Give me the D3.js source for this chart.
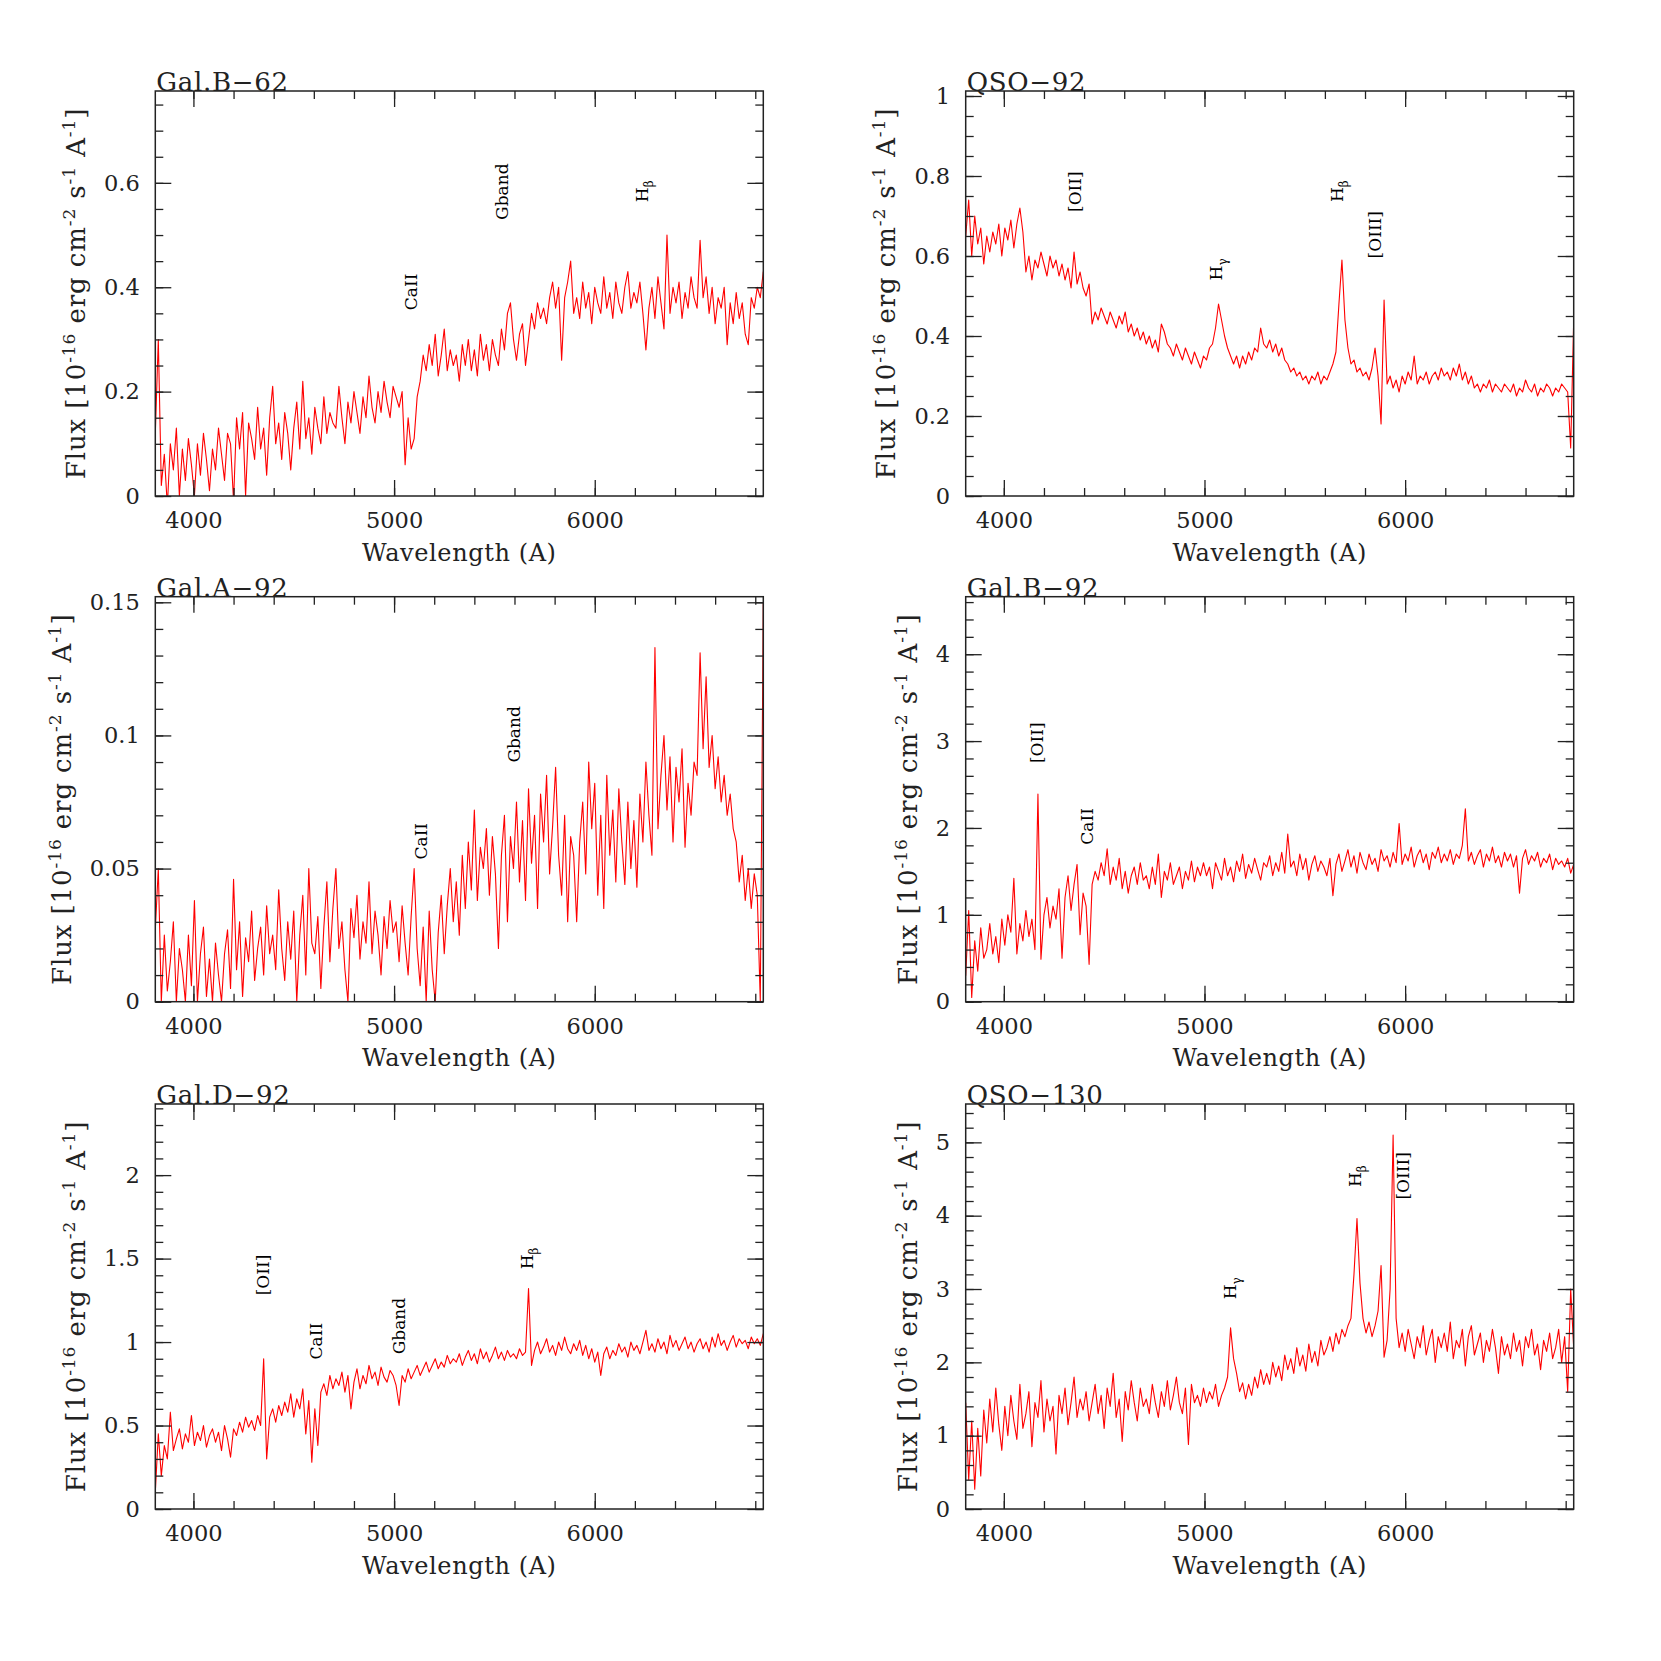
<!DOCTYPE html>
<html>
<head>
<meta charset="utf-8">
<script src="https://cdn.jsdelivr.net/npm/d3@7"></script>
<style>
  body { margin: 0; background: #fff; }
</style>
</head>
<body>
<svg id="chart" width="1661" height="1661"></svg>
<script>
// wavelength grid (A) shared by all six spectra
const wlStart = 3810, wlStep = 15;
const xDomain = [3810, 6840];
const xMajor = [4000, 5000, 6000];

const titles = ["Gal.B\u221262", "QSO\u221292", "Gal.A\u221292", "Gal.B\u221292", "Gal.D\u221292", "QSO\u2212130"];
const yMax = [0.776, 1.0125, 0.1521, 4.662, 2.426, 5.523];
const yMajor = [
    [0, 0.2, 0.4, 0.6],
    [0, 0.2, 0.4, 0.6, 0.8, 1],
    [0, 0.05, 0.1, 0.15],
    [0, 1, 2, 3, 4],
    [0, 0.5, 1, 1.5, 2],
    [0, 1, 2, 3, 4, 5]
];
const yMinorStep = [0.05, 0.05, 0.01, 0.2, 0.1, 0.2];

const fluxGalB62 = [
    0.12, 0.30, 0.02, 0.08, -0.02, 0.10, 0.05, 0.13, 0.00, 0.09, 0.03, 0.11, 0.06, 0.00, 0.10, 0.04, 0.12, 0.07, 0.01, 0.09,
    0.05, 0.13, 0.08, 0.03, 0.12, 0.10, -0.01, 0.15, 0.09, 0.16, 0.00, 0.14, 0.11, 0.07, 0.17, 0.09, 0.13, 0.04, 0.15, 0.21,
    0.10, 0.14, 0.07, 0.16, 0.12, 0.05, 0.13, 0.18, 0.09, 0.22, 0.11, 0.15, 0.08, 0.17, 0.13, 0.10, 0.19, 0.12, 0.16, 0.14,
    0.13, 0.21, 0.15, 0.10, 0.18, 0.14, 0.20, 0.16, 0.12, 0.19, 0.15, 0.23, 0.17, 0.14, 0.20, 0.16, 0.22, 0.18, 0.15, 0.21,
    0.19, 0.17, 0.20, 0.06, 0.15, 0.09, 0.11, 0.19, 0.22, 0.27, 0.24, 0.29, 0.25, 0.31, 0.23, 0.27, 0.32, 0.24, 0.28, 0.25,
    0.27, 0.22, 0.29, 0.25, 0.30, 0.24, 0.28, 0.23, 0.31, 0.26, 0.29, 0.24, 0.30, 0.27, 0.25, 0.32, 0.28, 0.35, 0.37, 0.30,
    0.26, 0.31, 0.33, 0.25, 0.30, 0.35, 0.32, 0.37, 0.34, 0.36, 0.33, 0.38, 0.41, 0.36, 0.40, 0.26, 0.38, 0.41, 0.45, 0.35,
    0.38, 0.34, 0.41, 0.36, 0.39, 0.33, 0.40, 0.37, 0.35, 0.42, 0.36, 0.39, 0.34, 0.41, 0.37, 0.35, 0.40, 0.43, 0.36, 0.39,
    0.37, 0.41, 0.35, 0.28, 0.36, 0.40, 0.34, 0.42, 0.37, 0.32, 0.50, 0.35, 0.40, 0.37, 0.41, 0.34, 0.39, 0.36, 0.42, 0.38,
    0.36, 0.49, 0.38, 0.42, 0.35, 0.40, 0.33, 0.38, 0.36, 0.40, 0.29, 0.37, 0.33, 0.39, 0.34, 0.37, 0.31, 0.29, 0.38, 0.36,
    0.40, 0.38, 0.43
];

const fluxQSO92 = [
    0.65, 0.74, 0.60, 0.70, 0.63, 0.67, 0.58, 0.65, 0.61, 0.66, 0.63, 0.68, 0.60, 0.67, 0.64, 0.69, 0.62, 0.68, 0.72, 0.66,
    0.56, 0.60, 0.54, 0.59, 0.57, 0.61, 0.58, 0.55, 0.60, 0.57, 0.59, 0.55, 0.58, 0.54, 0.57, 0.52, 0.61, 0.53, 0.56, 0.52,
    0.50, 0.53, 0.43, 0.46, 0.44, 0.47, 0.45, 0.43, 0.46, 0.44, 0.42, 0.45, 0.43, 0.46, 0.41, 0.43, 0.40, 0.42, 0.39, 0.41,
    0.38, 0.40, 0.37, 0.39, 0.36, 0.43, 0.41, 0.38, 0.37, 0.35, 0.38, 0.36, 0.34, 0.37, 0.35, 0.33, 0.36, 0.34, 0.32, 0.35,
    0.34, 0.37, 0.38, 0.42, 0.48, 0.44, 0.40, 0.37, 0.35, 0.33, 0.35, 0.32, 0.35, 0.33, 0.36, 0.34, 0.37, 0.36, 0.42, 0.38,
    0.37, 0.39, 0.36, 0.38, 0.35, 0.37, 0.34, 0.33, 0.31, 0.32, 0.30, 0.31, 0.29, 0.30, 0.28, 0.30, 0.29, 0.31, 0.28, 0.30,
    0.29, 0.31, 0.33, 0.36, 0.48, 0.59, 0.44, 0.37, 0.33, 0.34, 0.31, 0.32, 0.30, 0.31, 0.29, 0.32, 0.37, 0.30, 0.18, 0.49,
    0.28, 0.30, 0.27, 0.29, 0.26, 0.30, 0.28, 0.31, 0.29, 0.35, 0.28, 0.30, 0.29, 0.31, 0.28, 0.30, 0.31, 0.29, 0.32, 0.30,
    0.31, 0.29, 0.32, 0.30, 0.33, 0.29, 0.31, 0.28, 0.30, 0.27, 0.28, 0.26, 0.28, 0.27, 0.29, 0.26, 0.28, 0.27, 0.26, 0.28,
    0.27, 0.26, 0.28, 0.25, 0.27, 0.26, 0.29, 0.27, 0.26, 0.28, 0.25, 0.27, 0.26, 0.28, 0.27, 0.25, 0.27, 0.26, 0.28, 0.27,
    0.26, 0.12, 0.44
];

const fluxGalA92 = [
    0.027, 0.050, 0.000, 0.025, 0.004, 0.015, 0.030, 0.000, 0.020, 0.012, 0.000, 0.025, 0.006, 0.038, 0.000, 0.018, 0.028, 0.002, 0.016, 0.000,
    0.022, 0.010, 0.000, 0.018, 0.027, 0.005, 0.046, 0.012, 0.030, 0.002, 0.024, 0.015, 0.034, 0.008, 0.020, 0.028, 0.010, 0.036, 0.018, 0.025,
    0.012, 0.042, 0.020, 0.008, 0.030, 0.016, 0.034, 0.000, 0.025, 0.040, 0.010, 0.050, 0.022, 0.018, 0.032, 0.005, 0.028, 0.045, 0.015, 0.035,
    0.050, 0.020, 0.030, 0.012, 0.000, 0.035, 0.024, 0.040, 0.016, 0.030, 0.022, 0.045, 0.018, 0.034, 0.025, 0.010, 0.032, 0.020, 0.038, 0.026,
    0.030, 0.015, 0.036, 0.022, 0.010, 0.032, 0.050, 0.020, 0.006, 0.028, 0.000, 0.034, 0.012, 0.000, 0.026, 0.040, 0.018, 0.036, 0.050, 0.030,
    0.045, 0.025, 0.055, 0.035, 0.060, 0.042, 0.072, 0.038, 0.058, 0.050, 0.065, 0.040, 0.062, 0.048, 0.020, 0.055, 0.070, 0.030, 0.062, 0.050,
    0.075, 0.045, 0.068, 0.038, 0.080, 0.052, 0.070, 0.035, 0.078, 0.060, 0.085, 0.048, 0.066, 0.088, 0.055, 0.040, 0.070, 0.030, 0.062, 0.055,
    0.030, 0.060, 0.075, 0.048, 0.090, 0.065, 0.082, 0.040, 0.070, 0.035, 0.085, 0.055, 0.072, 0.045, 0.080, 0.060, 0.044, 0.075, 0.050, 0.068,
    0.043, 0.078, 0.060, 0.090, 0.070, 0.055, 0.133, 0.065, 0.085, 0.100, 0.072, 0.092, 0.060, 0.088, 0.075, 0.095, 0.058, 0.082, 0.070, 0.090,
    0.085, 0.131, 0.095, 0.122, 0.088, 0.100, 0.080, 0.092, 0.075, 0.085, 0.070, 0.078, 0.065, 0.060, 0.045, 0.055, 0.038, 0.050, 0.035, 0.048,
    0.040, 0.000, 0.150
];

const fluxGalB92 = [
    0.30, 1.05, 0.05, 0.70, 0.35, 0.85, 0.50, 0.60, 0.90, 0.55, 0.75, 0.45, 0.95, 0.65, 1.00, 0.80, 1.42, 0.55, 0.90, 0.70,
    1.05, 0.75, 0.95, 0.60, 2.39, 0.49, 1.00, 1.20, 0.85, 1.10, 0.95, 1.30, 0.50, 1.20, 1.45, 1.05, 1.35, 1.58, 0.77, 1.25,
    1.10, 0.43, 1.35, 1.50, 1.40, 1.60, 1.45, 1.76, 1.35, 1.55, 1.40, 1.65, 1.30, 1.50, 1.25, 1.45, 1.55, 1.35, 1.60, 1.40,
    1.45, 1.30, 1.55, 1.35, 1.70, 1.20, 1.50, 1.40, 1.60, 1.35, 1.45, 1.55, 1.30, 1.50, 1.40, 1.62, 1.38, 1.55, 1.45, 1.60,
    1.45, 1.55, 1.30, 1.60, 1.50, 1.40, 1.65, 1.45, 1.55, 1.38, 1.62, 1.50, 1.70, 1.42, 1.58, 1.48, 1.65, 1.52, 1.40, 1.60,
    1.55, 1.68, 1.45, 1.60, 1.50, 1.72, 1.48, 1.93, 1.55, 1.62, 1.45, 1.70, 1.52, 1.65, 1.40, 1.58, 1.68, 1.50, 1.62, 1.55,
    1.45, 1.65, 1.22, 1.58, 1.70, 1.50, 1.62, 1.75, 1.55, 1.68, 1.48, 1.72, 1.60, 1.52, 1.70, 1.58, 1.65, 1.50, 1.75, 1.62,
    1.68, 1.55, 1.72, 1.60, 2.05, 1.58, 1.70, 1.62, 1.78, 1.55, 1.68, 1.75, 1.60, 1.70, 1.52, 1.72, 1.65, 1.78, 1.60, 1.70,
    1.62, 1.75, 1.58, 1.70, 1.65, 1.80, 2.22, 1.62, 1.72, 1.58, 1.68, 1.75, 1.55, 1.70, 1.62, 1.78, 1.60, 1.68, 1.55, 1.72,
    1.62, 1.70, 1.55, 1.68, 1.25, 1.65, 1.75, 1.58, 1.68, 1.62, 1.72, 1.55, 1.65, 1.60, 1.70, 1.52, 1.65, 1.58, 1.62, 1.55,
    1.65, 1.48, 1.58
];

const fluxGalD92 = [
    0.10, 0.45, 0.20, 0.38, 0.30, 0.58, 0.35, 0.42, 0.48, 0.36, 0.45, 0.40, 0.56, 0.38, 0.46, 0.41, 0.50, 0.37, 0.44, 0.48,
    0.40, 0.46, 0.35, 0.50, 0.42, 0.31, 0.48, 0.44, 0.52, 0.46, 0.55, 0.49, 0.53, 0.47, 0.56, 0.50, 0.90, 0.30, 0.55, 0.60,
    0.52, 0.62, 0.56, 0.64, 0.58, 0.69, 0.55, 0.66, 0.60, 0.72, 0.45, 0.65, 0.28, 0.60, 0.38, 0.70, 0.75, 0.68, 0.80, 0.72,
    0.78, 0.74, 0.82, 0.70, 0.80, 0.60, 0.76, 0.84, 0.72, 0.80, 0.75, 0.86, 0.78, 0.82, 0.74, 0.85, 0.79, 0.76, 0.83, 0.80,
    0.74, 0.62, 0.80, 0.76, 0.84, 0.78, 0.82, 0.86, 0.80, 0.84, 0.88, 0.82, 0.86, 0.90, 0.84, 0.88, 0.85, 0.92, 0.87, 0.90,
    0.88, 0.93, 0.86, 0.91, 0.95, 0.89, 0.93, 0.87, 0.96, 0.90, 0.94, 0.88, 0.92, 0.97, 0.90, 0.94, 0.89, 0.95, 0.91, 0.93,
    0.90, 0.96, 0.92, 0.94, 1.32, 0.86, 0.95, 1.00, 0.93, 0.97, 1.02, 0.94, 0.98, 0.92, 1.00, 0.95, 1.03, 0.96, 0.93, 0.99,
    0.95, 1.01, 0.92, 0.98, 0.90, 0.96, 0.88, 0.94, 0.80, 0.93, 0.97, 0.90, 0.95, 0.92, 0.99, 0.94, 0.97, 0.91, 1.00, 0.95,
    0.98, 0.93, 1.00, 1.07, 0.95, 0.99, 0.94, 1.02, 0.96, 1.00, 0.93, 1.04, 0.97, 1.01, 0.95, 0.99, 1.03, 0.96, 1.00, 0.94,
    0.99, 1.02, 0.96, 1.00, 0.94, 1.03, 0.97, 1.05, 0.98, 1.01, 0.95, 1.00, 1.04, 0.97, 1.02, 0.99, 1.01, 0.96, 1.03, 0.99,
    1.02, 0.98, 1.05
];

const fluxQSO130 = [
    1.45, 0.40, 1.20, 0.27, 1.10, 0.45, 1.35, 0.90, 1.50, 1.05, 1.65, 1.15, 0.80, 1.40, 1.00, 1.55, 1.20, 0.95, 1.70, 1.10,
    1.30, 1.60, 0.85, 1.45, 1.25, 1.75, 1.05, 1.50, 1.20, 1.40, 0.75, 1.55, 1.30, 1.65, 1.15, 1.45, 1.80, 1.25, 1.50, 1.35,
    1.60, 1.20, 1.45, 1.70, 1.30, 1.55, 1.10, 1.65, 1.40, 1.85, 1.25, 1.50, 0.92, 1.60, 1.35, 1.75, 1.45, 1.20, 1.65, 1.40,
    1.50, 1.30, 1.70, 1.45, 1.25, 1.60, 1.40, 1.75, 1.35, 1.55, 1.80, 1.45, 1.30, 1.65, 0.88, 1.70, 1.45, 1.55, 1.40, 1.65,
    1.45, 1.60, 1.50, 1.70, 1.40, 1.55, 1.65, 1.80, 2.47, 2.05, 1.85, 1.60, 1.72, 1.50, 1.70, 1.55, 1.80, 1.65, 1.90, 1.70,
    1.85, 1.70, 2.00, 1.80, 1.95, 1.75, 2.10, 1.90, 2.05, 1.85, 2.20, 1.95, 2.10, 1.88, 2.25, 2.00, 2.15, 1.95, 2.30, 2.10,
    2.20, 2.35, 2.15, 2.40, 2.25, 2.45, 2.35, 2.50, 2.60, 3.20, 3.96, 3.08, 2.60, 2.40, 2.55, 2.35, 2.50, 2.70, 3.32, 2.07,
    2.30, 3.00, 5.10, 2.60, 2.20, 2.40, 2.15, 2.45, 2.25, 2.05, 2.35, 2.20, 2.50, 2.10, 2.30, 2.45, 2.00, 2.35, 2.20, 2.40,
    2.15, 2.55, 2.05, 2.30, 2.20, 2.45, 1.95, 2.35, 2.50, 2.10, 2.25, 2.40, 2.00, 2.30, 2.15, 2.45, 2.20, 1.85, 2.35, 2.10,
    2.25, 2.05, 2.40, 2.15, 2.30, 1.95, 2.35, 2.20, 2.45, 2.10, 2.25, 1.90, 2.30, 2.15, 2.40, 2.05, 2.20, 2.45, 2.00, 2.35,
    1.60, 3.00, 2.20
];

// line identifications: [label, subscript, wavelength, flux at start of text]
const linesGalB62 = [["CaII", "", 5085, 0.356], ["Gband", "", 5539, 0.529], ["H", "\u03b2", 6234, 0.563]];
const linesQSO92 = [["[OII]", "", 4355, 0.71], ["H", "\u03b3", 5055, 0.539], ["H", "\u03b2", 5659, 0.735], ["[OIII]", "", 5851, 0.594]];
const linesGalA92 = [["CaII", "", 5132, 0.0534], ["Gband", "", 5597, 0.0898]];
const linesGalB92 = [["[OII]", "", 4164, 2.747], ["CaII", "", 4412, 1.808]];
const linesGalD92 = [["[OII]", "", 4347, 1.28], ["CaII", "", 4610, 0.896], ["Gband", "", 5022, 0.927], ["H", "\u03b2", 5661, 1.436]];
const linesQSO130 = [["H", "\u03b3", 5127, 2.86], ["H", "\u03b2", 5751, 4.39], ["[OIII]", "", 5990, 4.22]];

const fluxes = [fluxGalB62, fluxQSO92, fluxGalA92, fluxGalB92, fluxGalD92, fluxQSO130];
const lineIds = [linesGalB62, linesQSO92, linesGalA92, linesGalB92, linesGalD92, linesQSO130];

const wavelengths = d3.range(fluxGalB62.length).map(k => wlStart + k * wlStep);

const font = "'DejaVu Serif', serif";
const ink = "#222";
const W = 608, H = 405;
const colX = [155.3, 965.7];
const rowY = [91, 596.7, 1104];

const svg = d3.select("#chart");

const styleAxis = sel => {
    sel.select(".domain").remove();
    sel.selectAll("line").attr("stroke", ink).attr("stroke-width", 1.3);
    sel.selectAll("text")
        .attr("fill", ink)
        .style("font-family", font)
        .style("font-size", "22.5px");
};

titles.forEach((title, i) => {
    const x0 = colX[i % 2], y0 = rowY[Math.floor(i / 2)];
    const g = svg.append("g").attr("transform", `translate(${x0},${y0})`);

    const x = d3.scaleLinear().domain(xDomain).range([0, W]);
    const y = d3.scaleLinear().domain([0, yMax[i]]).range([H, 0]);

    const xMinor = d3.range(4000, xDomain[1] + 1, 200);
    const nMinor = Math.floor(yMax[i] / yMinorStep[i] + 1e-6);
    const yMinor = d3.range(0, nMinor + 1).map(k => +(k * yMinorStep[i]).toFixed(4));

    // spectrum, clipped to the frame
    g.append("clipPath").attr("id", "clip" + i)
        .append("rect").attr("width", W).attr("height", H);

    const line = d3.line()
        .x((d, k) => x(wavelengths[k]))
        .y(d => y(d));

    g.append("path")
        .datum(fluxes[i])
        .attr("clip-path", `url(#clip${i})`)
        .attr("fill", "none")
        .attr("stroke", "#ff0000")
        .attr("stroke-width", 1.1)
        .attr("stroke-linejoin", "round")
        .attr("d", line);

    // ticks on all four sides, pointing inward
    g.append("g").attr("transform", `translate(0,${H})`)
        .call(d3.axisBottom(x).tickValues(xMajor).tickSize(-16).tickPadding(16).tickFormat(d3.format("d")))
        .call(styleAxis);
    g.append("g").attr("transform", `translate(0,${H})`)
        .call(d3.axisBottom(x).tickValues(xMinor).tickSize(-8).tickFormat(""))
        .call(styleAxis);
    g.append("g")
        .call(d3.axisTop(x).tickValues(xMajor).tickSize(-16).tickFormat(""))
        .call(styleAxis);
    g.append("g")
        .call(d3.axisTop(x).tickValues(xMinor).tickSize(-8).tickFormat(""))
        .call(styleAxis);

    const leftAxis = g.append("g")
        .call(d3.axisLeft(y).tickValues(yMajor[i]).tickSize(-16).tickPadding(15.5).tickFormat(d3.format("~g")))
        .call(styleAxis);
    g.append("g")
        .call(d3.axisLeft(y).tickValues(yMinor).tickSize(-8).tickFormat(""))
        .call(styleAxis);
    g.append("g").attr("transform", `translate(${W},0)`)
        .call(d3.axisRight(y).tickValues(yMajor[i]).tickSize(-16).tickFormat(""))
        .call(styleAxis);
    g.append("g").attr("transform", `translate(${W},0)`)
        .call(d3.axisRight(y).tickValues(yMinor).tickSize(-8).tickFormat(""))
        .call(styleAxis);

    g.append("rect")
        .attr("width", W).attr("height", H)
        .attr("fill", "none")
        .attr("stroke", ink)
        .attr("stroke-width", 1.5);

    // panel name sitting on the top edge
    g.append("text")
        .attr("x", 1).attr("y", 0)
        .attr("fill", ink)
        .style("font-family", font)
        .style("font-size", "26px")
        .style("letter-spacing", "0.7px")
        .text(title);

    // x title
    g.append("text")
        .attr("x", W / 2).attr("y", H + 64.5)
        .attr("text-anchor", "middle")
        .attr("fill", ink)
        .style("font-family", font)
        .style("font-size", "24px")
        .style("letter-spacing", "0.6px")
        .text("Wavelength (A)");

    // y title, placed just left of the widest tick label
    const tickLeft = d3.min(leftAxis.selectAll("text").nodes(), n => n.getBBox().x);
    const yt = g.append("text")
        .attr("transform", `translate(${tickLeft - 19},${H / 2}) rotate(-90)`)
        .attr("text-anchor", "middle")
        .attr("fill", ink)
        .style("font-family", font)
        .style("font-size", "26px")
        .style("letter-spacing", "0.9px");
    const parts = [["Flux [10", 0], ["-16", 1], [" erg cm", 0], ["-2", 1], [" s", 0], ["-1", 1], [" A", 0], ["-1", 1], ["]", 0]];
    let shifted = false;
    parts.forEach(([t, sup]) => {
        const ts = yt.append("tspan").text(t);
        if (sup) {
            ts.style("font-size", "17px").attr("dy", -10);
            shifted = true;
        } else if (shifted) {
            ts.attr("dy", 10);
            shifted = false;
        }
    });

    // line identifications, written upward
    lineIds[i].forEach(([label, sub, wl, f]) => {
        const t = g.append("text")
            .attr("transform", `translate(${x(wl)},${y(f)}) rotate(-90)`)
            .attr("dy", "0.36em")
            .attr("fill", "#000")
            .style("font-family", font)
            .style("font-size", "17px");
        t.append("tspan").text(label);
        if (sub) {
            t.append("tspan").text(sub).style("font-size", "12px").attr("dy", 5);
        }
    });
});
</script>
</body>
</html>
